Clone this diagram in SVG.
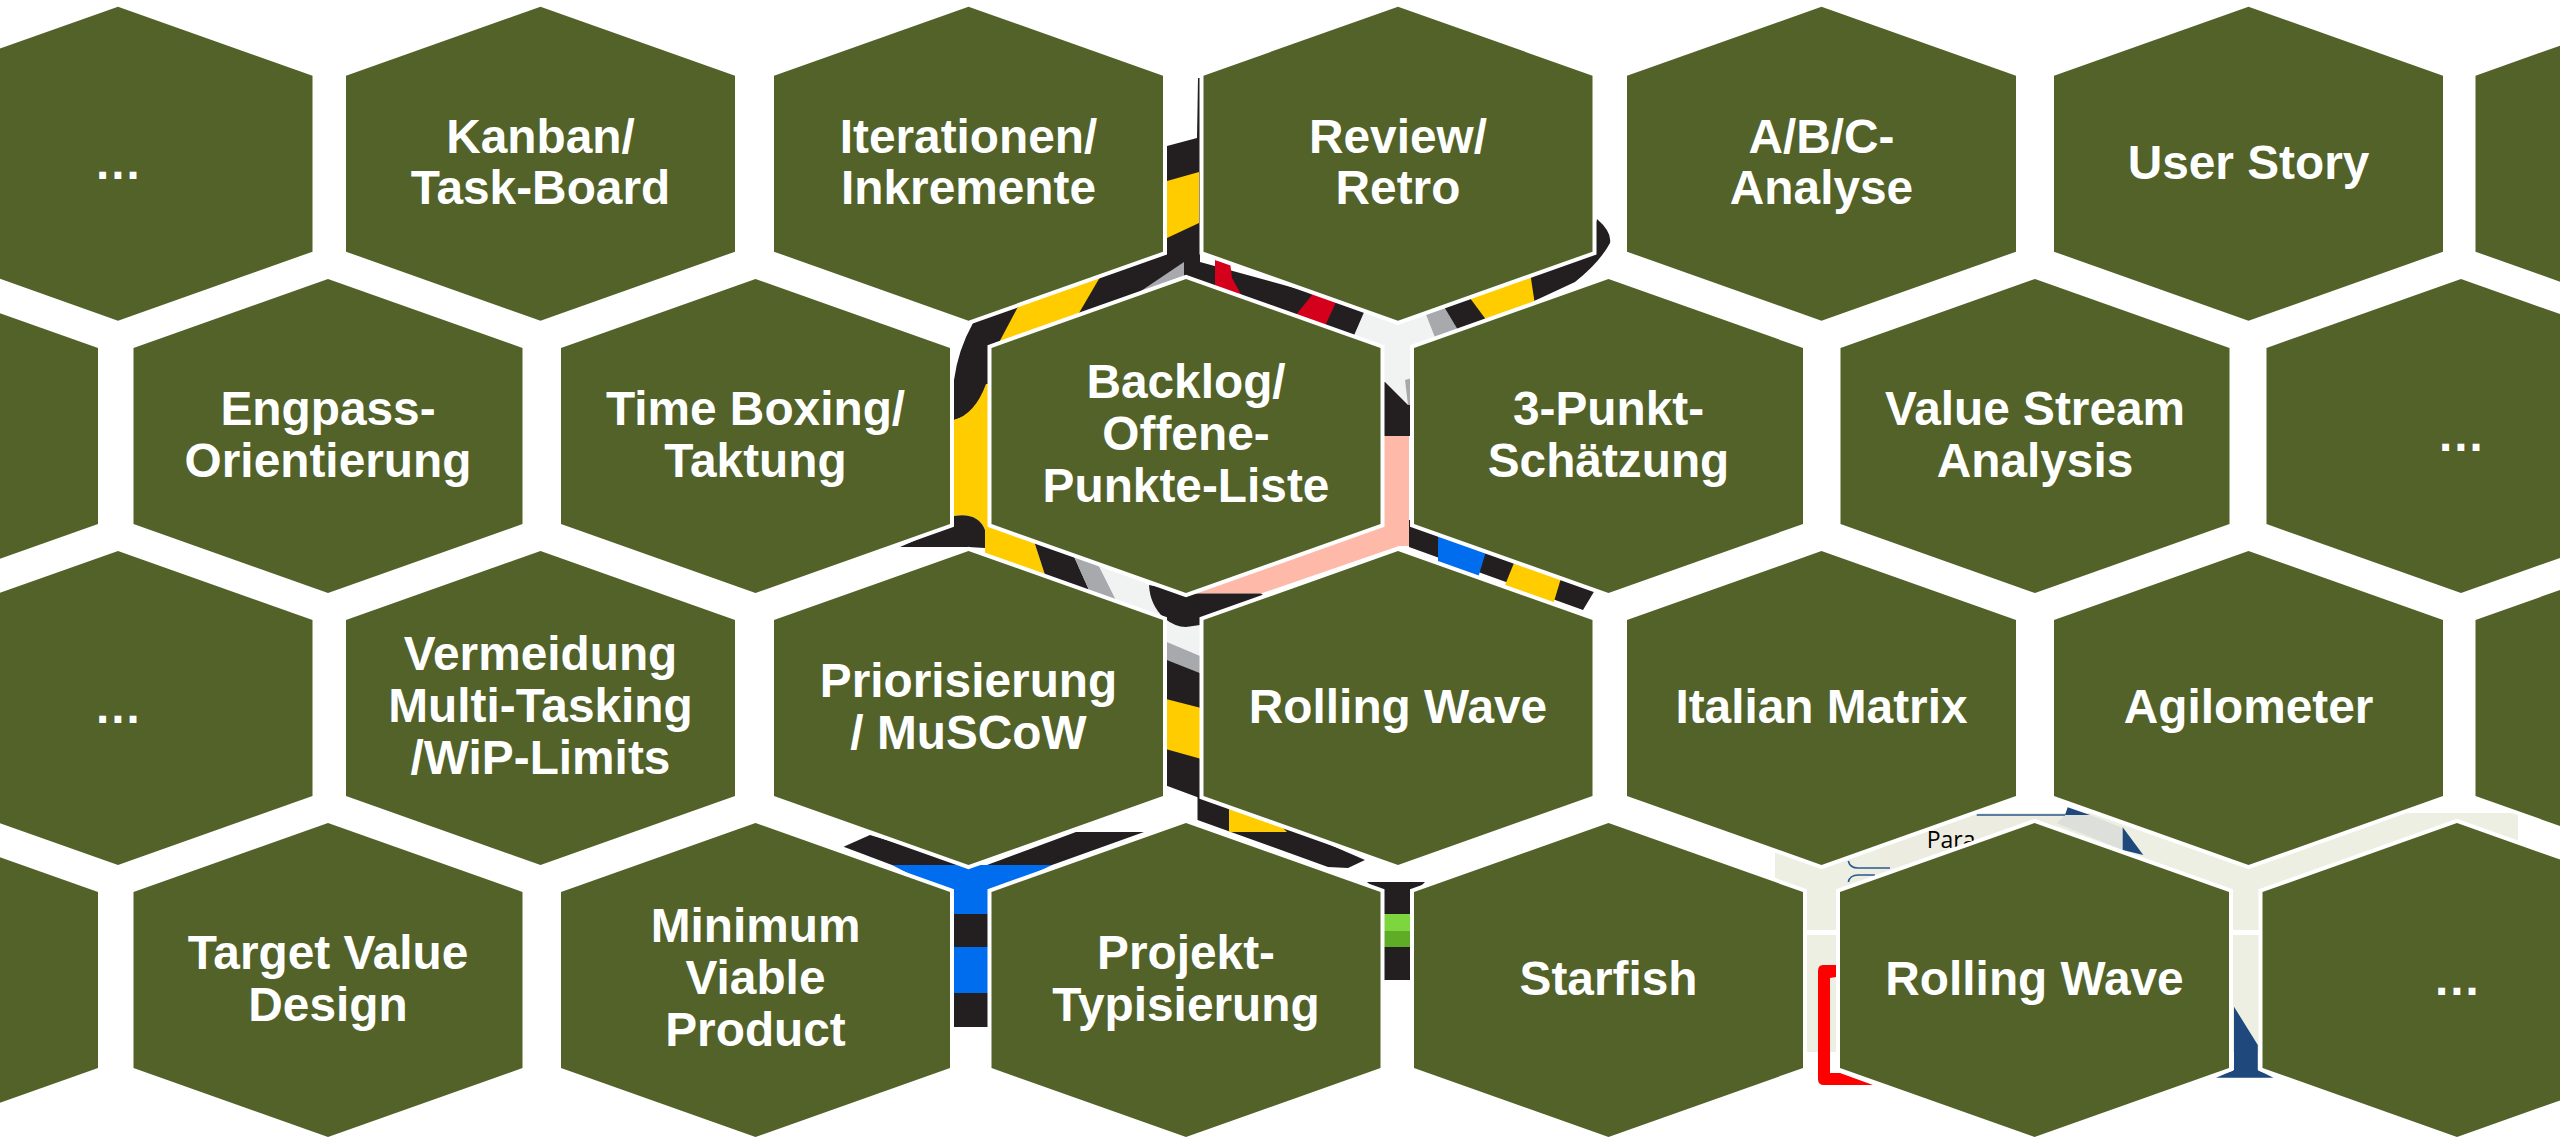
<svg xmlns="http://www.w3.org/2000/svg" xmlns:xlink="http://www.w3.org/1999/xlink" width="2560" height="1138" viewBox="0 0 2560 1138">
<style>
.k{fill:#231F20}.y{fill:#FFCC00}.g{fill:#A7A9AC}.w{fill:#F1F3F2}.r{fill:#D5001C}.b{fill:#006CEE}.s{fill:#FFB9A9}.n{fill:#1F497D}
.hex{fill:#526229;stroke:#fff;stroke-width:8;paint-order:stroke;stroke-linejoin:miter}
.t{font-family:"Liberation Sans",Arial,sans-serif;font-weight:700;font-size:47.8px;fill:#fff;text-anchor:middle}
</style>
<defs><polygon id="hx" class="hex" points="0,-157 194.5,-88 194.5,88 0,157 -194.5,88 -194.5,-88"/></defs>
<rect width="2560" height="1138" fill="#fff"/>
<g id="backdrop">
<path class="k" d="M1167,146 L1197,138 L1198,78 L1200,78 L1200,262 L1375,310 L1352,345 L1186,330 L1000,400 L1000,380 L986,386 Q982,412 954,420 L954,380 Q958,350 973,323 L1000,300 L1160,250 L1167,250 Z"/>
<polygon class="y" points="1167,181 1199,172 1199,223 1167,238"/>
<polygon class="y" points="1103,272 1072,325 995,350 1020,303"/>
<polygon class="g" points="1184,262 1184,285 1135,295"/>
<polygon class="r" points="1215,260 1230,262 1232,278 1243,298 1215,290"/>
<polygon class="r" points="1316,290 1337,300 1325,326 1295,316"/>
<path class="k" d="M1440,345 L1420,305 L1590,240 L1597,219 Q1612,232 1610,243 Q1600,262 1575,282 Z"/>
<polygon class="w" points="1365,310 1398,325 1424,310 1440,338 1412,345 1412,405 1408,405 1385,382 1380,382 1380,345 1352,340"/>
<polygon class="g" points="1405,380 1412,378 1412,405 1408,405"/>
<polygon class="g" points="1425,312 1443,305 1458,330 1436,340"/>
<polygon class="y" points="1467,294 1530,272 1535,305 1490,325"/>
<polygon class="k" points="1380,382 1385,382 1408,405 1412,405 1412,436 1380,436"/>
<path class="k" d="M1409,520 L1420,520 L1595,590 L1583,610 L1409,547 Z"/>
<polygon class="b" points="1438,530 1438,562 1478,578 1487,548"/>
<polygon class="y" points="1516,558 1503,590 1552,608 1562,575"/>
<polygon class="s" points="1380,436 1409,436 1409,546 1399,546 1261,593.6 1195,593.6 1190,590 1380,500"/>
<path class="y" d="M954,420 Q975,414 986,384 L995,384 L995,530 L985,530 Q978,512 954,516 Z"/>
<path class="k" d="M900,547 L968,547 L985,548 L985,530 Q978,512 954,516 L950,525 Z"/>
<polygon class="y" points="985,518 1033,538 1046,578 985,553"/>
<polygon class="k" points="1033,538 1072,552 1089,590 1046,578"/>
<polygon class="g" points="1072,552 1096,560 1116,600 1089,590"/>
<polygon class="w" points="1096,560 1150,585 1175,600 1205,610 1205,657 1162,641 1162,620 1116,600"/>
<path class="k" d="M1261,593.6 L1195,593.6 L1186,592 L1149,585 Q1150,605 1164,618 Q1175,627 1186,627 L1200,625 L1215,620 L1270,600 Z"/>
<polygon class="g" points="1162,640 1205,658 1205,675 1162,658"/>
<polygon class="k" points="1162,658 1205,675 1205,800 1162,784"/>
<polygon class="y" points="1162,698 1205,709 1205,760 1162,748"/>
<polygon class="k" points="1197.5,795 1215,795 1365,860 1348,868 1328,867 1197.5,820"/>
<polygon class="y" points="1229,805 1270,815 1287,832 1229,832"/>
<polygon class="k" points="843.6,846.7 870,835 970,865 892,865"/>
<polygon class="k" points="1076,832 1144,832 1052,865 987,865"/>
<polygon class="b" points="892,865 1052,865 990,895 990,914 950,914 950,895"/>
<rect class="k" x="950" y="914" width="40" height="33"/>
<rect class="b" x="950" y="947" width="40" height="46"/>
<rect class="k" x="950" y="993" width="40" height="34"/>
<polygon class="k" points="1367,882 1425,882 1412,895 1380,895"/>
<rect class="k" x="1380" y="895" width="33" height="19"/>
<rect fill="#7ED63F" x="1380" y="914" width="33" height="17"/>
<rect fill="#5FAD27" x="1380" y="931" width="33" height="16"/>
<rect class="k" x="1380" y="947" width="33" height="33"/>
<rect x="1775" y="813" width="743" height="117" fill="#ECEFE1"/>
<rect x="1775" y="935" width="743" height="117" fill="#ECEFE1"/>
<rect x="1880" y="813" width="200" height="60" fill="#ECECE1"/>
<polygon fill="#DDDFDB" points="2065,815 2090,815 2122.7,828 2122.7,850 2056.7,823.3"/>
<polygon class="n" points="2065,815 2067.7,807.3 2090,815"/>
<polygon class="n" points="2122.7,827.3 2143.3,855 2122.7,850"/>
<path d="M1976.7,815 H2065 M1848.3,861 Q1850,868 1858,868 H1890 M1848.3,882 Q1850,875 1858,875 H1875" fill="none" stroke="#2A5A8F" stroke-width="1.6"/>
<text x="1926.7" y="848" font-family="'Open Sans','Liberation Sans',sans-serif" font-size="23" fill="#000">Para</text>
<path fill="#FF0000" d="M1836,965 H1823 Q1818,965 1818,971 V1079 Q1818,1085 1824,1085 H1873 L1840,1073 H1830 V978 L1836,977 Z"/>
<polygon class="n" points="2234,1006.7 2257.8,1045 2257.8,1070 2273.5,1077.7 2216,1077.7 2234,1070"/>
</g>
<g id="row1">
<g id="n-dots-1" transform="translate(118 163.7)"><use href="#hx"/><text class="t" y="15">…</text></g>
<g id="n-kanban" transform="translate(540.5 163.7)"><use href="#hx"/><text class="t"><tspan x="0" y="-11">Kanban/</tspan><tspan x="0" y="40.6">Task-Board</tspan></text></g>
<g id="n-iterationen" transform="translate(968.5 163.7)"><use href="#hx"/><text class="t"><tspan x="0" y="-11">Iterationen/</tspan><tspan x="0" y="40.6">Inkremente</tspan></text></g>
<g id="n-review" transform="translate(1398 163.7)"><use href="#hx"/><text class="t"><tspan x="0" y="-11">Review/</tspan><tspan x="0" y="40.6">Retro</tspan></text></g>
<g id="n-abc" transform="translate(1821.5 163.7)"><use href="#hx"/><text class="t"><tspan x="0" y="-11">A/B/C-</tspan><tspan x="0" y="40.6">Analyse</tspan></text></g>
<g id="n-userstory" transform="translate(2248.5 163.7)"><use href="#hx"/><text class="t" y="15">User Story</text></g>
<g id="n-edge-1" transform="translate(2670 163.7)"><use href="#hx"/></g>
</g>
<g id="row2">
<g id="n-edge-2" transform="translate(-96.5 436)"><use href="#hx"/></g>
<g id="n-engpass" transform="translate(328 436)"><use href="#hx"/><text class="t"><tspan x="0" y="-11">Engpass-</tspan><tspan x="0" y="40.6">Orientierung</tspan></text></g>
<g id="n-timeboxing" transform="translate(755.5 436)"><use href="#hx"/><text class="t"><tspan x="0" y="-11">Time Boxing/</tspan><tspan x="0" y="40.6">Taktung</tspan></text></g>
<g id="n-backlog" transform="translate(1186 436)"><use href="#hx"/><text class="t"><tspan x="0" y="-38">Backlog/</tspan><tspan x="0" y="14">Offene-</tspan><tspan x="0" y="66">Punkte-Liste</tspan></text></g>
<g id="n-3punkt" transform="translate(1608.5 436)"><use href="#hx"/><text class="t"><tspan x="0" y="-11">3-Punkt-</tspan><tspan x="0" y="40.6">Schätzung</tspan></text></g>
<g id="n-vsa" transform="translate(2035 436)"><use href="#hx"/><text class="t"><tspan x="0" y="-11">Value Stream</tspan><tspan x="0" y="40.6">Analysis</tspan></text></g>
<g id="n-dots-2" transform="translate(2461 436)"><use href="#hx"/><text class="t" y="15">…</text></g>
</g>
<g id="row3">
<g id="n-dots-3" transform="translate(118 708)"><use href="#hx"/><text class="t" y="15">…</text></g>
<g id="n-vermeidung" transform="translate(540.5 708)"><use href="#hx"/><text class="t"><tspan x="0" y="-38">Vermeidung</tspan><tspan x="0" y="14">Multi-Tasking</tspan><tspan x="0" y="66">/WiP-Limits</tspan></text></g>
<g id="n-priorisierung" transform="translate(968.5 708)"><use href="#hx"/><text class="t"><tspan x="0" y="-11">Priorisierung</tspan><tspan x="0" y="40.6">/ MuSCoW</tspan></text></g>
<g id="n-rollingwave-1" transform="translate(1398 708)"><use href="#hx"/><text class="t" y="15">Rolling Wave</text></g>
<g id="n-italian" transform="translate(1821.5 708)"><use href="#hx"/><text class="t" y="15">Italian Matrix</text></g>
<g id="n-agilometer" transform="translate(2248.5 708)"><use href="#hx"/><text class="t" y="15">Agilometer</text></g>
<g id="n-edge-3" transform="translate(2670 708)"><use href="#hx"/></g>
</g>
<g id="row4">
<g id="n-edge-4" transform="translate(-96.5 980)"><use href="#hx"/></g>
<g id="n-target" transform="translate(328 980)"><use href="#hx"/><text class="t"><tspan x="0" y="-11">Target Value</tspan><tspan x="0" y="40.6">Design</tspan></text></g>
<g id="n-mvp" transform="translate(755.5 980)"><use href="#hx"/><text class="t"><tspan x="0" y="-38">Minimum</tspan><tspan x="0" y="14">Viable</tspan><tspan x="0" y="66">Product</tspan></text></g>
<g id="n-projekt" transform="translate(1186 980)"><use href="#hx"/><text class="t"><tspan x="0" y="-11">Projekt-</tspan><tspan x="0" y="40.6">Typisierung</tspan></text></g>
<g id="n-starfish" transform="translate(1608.5 980)"><use href="#hx"/><text class="t" y="15">Starfish</text></g>
<g id="n-rollingwave-2" transform="translate(2034.5 980)"><use href="#hx"/><text class="t" y="15">Rolling Wave</text></g>
<g id="n-dots-4" transform="translate(2457 980)"><use href="#hx"/><text class="t" y="15">…</text></g>
</g>
</svg>
